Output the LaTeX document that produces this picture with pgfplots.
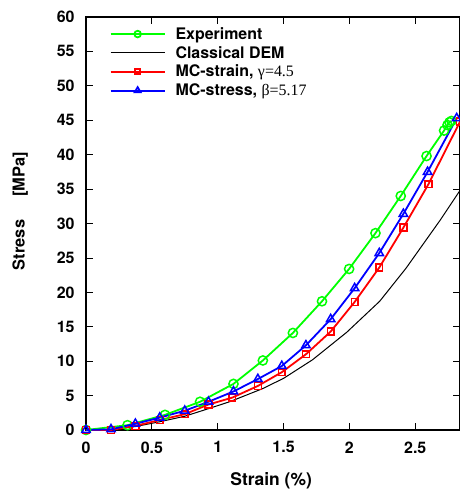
\documentclass[border=0pt]{standalone}
\usepackage{pgfplots}
\pgfplotsset{compat=1.18}
\usepackage{fontspec}
\setmainfont{TeX Gyre Heros}
\newfontfamily\serifgreek{Liberation Serif}

\definecolor{expgreen}{RGB}{0,255,0}
\definecolor{mcred}{RGB}{255,0,0}
\definecolor{mcblue}{RGB}{0,0,255}

\begin{document}
\begin{tikzpicture}[x=1bp,y=1bp]
\begin{axis}[
  name=ax,
  scale only axis,
  width=374bp, height=413bp,
  xmin=0, xmax=2.84,
  ymin=0, ymax=60,
  xtick={0,0.5,1,1.5,2,2.5},
  xticklabels={0,0.5,1,1.5,2,2.5},
  ytick={0,5,10,15,20,25,30,35,40,45,50,55,60},
  tick align=inside,
  major tick length=7bp,
  tick style={black, line width=0.8bp},
  axis line style={black, line width=1.2bp},
  /pgf/number format/assume math mode=true,
  ticklabel style={font=\fontsize{16}{19}\selectfont\bfseries},
  yticklabel style={xshift=-8bp},
  xticklabel style={yshift=-8bp},
  xlabel={Strain (\%)},
  ylabel={Stress\hspace{1.4em}[MPa]},
  xlabel style={font=\fontsize{17.5}{20}\selectfont\bfseries,
    at={(ticklabel cs:0.495)}, anchor=north, yshift=-12bp},
  ylabel style={font=\fontsize{16.5}{20}\selectfont\bfseries,
    at={(ticklabel cs:0.53)}, anchor=south, yshift=22bp},
  legend style={
    at={(axis description cs:0.055,0.985)}, anchor=north west,
    draw=none, fill=none,
    font=\fontsize{16}{19}\selectfont\bfseries,
    row sep=1.5bp,
    legend cell align=left,
    /tikz/every odd column/.append style={column sep=8bp},
  },
  legend image code/.code={
    \draw[mark repeat=2, mark phase=2, mark options={solid, scale=0.72}]
      plot coordinates {(0bp,0bp) (27bp,0bp) (54bp,0bp)};
  },
  clip=true,
]
% Experiment
\addplot[color=expgreen, line width=1.8bp, mark=o, mark size=4.6bp,
  mark options={line width=1.5bp, solid}]
coordinates {
  (0,0) (0.315,0.7) (0.60,2.2) (0.866,4.1) (1.12,6.7) (1.343,10.1)
  (1.571,14.1) (1.792,18.7) (1.998,23.4) (2.198,28.6) (2.39,34.0)
  (2.586,39.8) (2.719,43.5) (2.745,44.3) (2.76,44.7) (2.775,44.9)
};
\addlegendentry{Experiment}
% Classical DEM
\addplot[color=black, line width=1.0bp, mark=none]
coordinates {
  (0,0) (0.19,0.05) (0.375,0.5) (0.56,1.2) (0.75,2.0) (0.93,3.1)
  (1.09,4.1) (1.34,6.0) (1.50,7.5) (1.72,10.2) (1.98,14.2) (2.23,18.7)
  (2.43,23.5) (2.69,30.5) (2.84,34.8)
};
\addlegendentry{Classical DEM}
% MC-strain
\addplot[color=mcred, line width=1.8bp, mark=square, mark size=3.4bp,
  mark options={line width=1.5bp, solid}]
coordinates {
  (0,0) (0.19,0.0) (0.375,0.6) (0.56,1.45) (0.75,2.3) (0.93,3.7)
  (1.11,4.7) (1.305,6.4) (1.487,8.4) (1.67,11.0) (1.858,14.3)
  (2.04,18.6) (2.227,23.6) (2.41,29.4) (2.60,35.7) (2.84,44.8)
};
\addlegendentry{MC-strain, {\serifgreek\mdseries γ=4.5}}
% MC-stress
\addplot[color=mcblue, line width=1.8bp, mark=triangle, mark size=4.8bp,
  mark options={line width=1.5bp, solid}]
coordinates {
  (0,0) (0.19,0.1) (0.375,0.9) (0.56,1.8) (0.75,2.8) (0.93,4.1)
  (1.12,5.6) (1.305,7.4) (1.487,9.3) (1.67,12.3) (1.858,16.1)
  (2.04,20.6) (2.227,25.7) (2.41,31.4) (2.594,37.5) (2.815,45.3)
};
\addlegendentry{MC-stress, {\serifgreek\mdseries β=5.17}}
\end{axis}
\pgfresetboundingbox
\path (ax.south west) ++(-86bp,-60bp) coordinate (bbsw);
\path (ax.south west) ++(374bp,430bp) coordinate (bbne);
\useasboundingbox (bbsw) rectangle (bbne);
\end{tikzpicture}
\end{document}
